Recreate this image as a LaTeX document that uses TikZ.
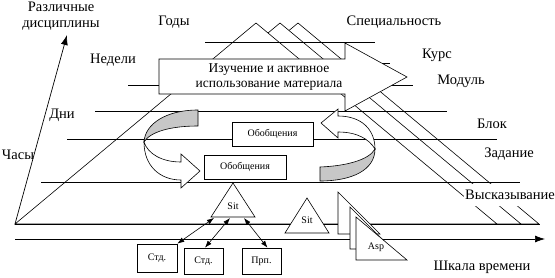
\documentclass[tikz,border=0pt]{standalone}
\usepackage{fontspec}
\setmainfont{Liberation Serif}
\usetikzlibrary{arrows.meta, positioning}

\begin{document}
\begin{tikzpicture}[
  x=1pt, y=-1pt,
  lvl/.style={line width=0.7pt},
  lbl/.style={font=\fontsize{14.5}{16}\selectfont, inner sep=1pt},
  tri/.style={draw, fill=white, line width=0.6pt},
  ribbon/.style={draw, fill=white, line width=0.6pt},
  ribbonback/.style={draw, fill=black!22, line width=0.6pt},
  tagbox/.style={draw, fill=white, line width=0.6pt, inner sep=1pt,
                 font=\fontsize{10}{11}\selectfont},
  tag/.style={font=\fontsize{10}{11}\selectfont, inner sep=1pt},
  axis/.style={-{Latex[length=10pt,width=7pt]}, line width=0.7pt},
  dbl/.style={{Latex[length=7pt,width=5pt]}-{Latex[length=7pt,width=5pt]},
              line width=0.6pt}
]
\useasboundingbox (0,0) rectangle (555,278);

% stacked pyramids, back to front
\foreach \dx in {42,24,0}
  \draw[tri] (15+\dx,224) -- (256+\dx,23) -- (497+\dx,224) -- cycle;

% level lines
\draw[lvl] (205,42) -- (375,42);
\draw[lvl] (300,63) -- (390,63);
\draw[lvl] (128,85) -- (413,85);
\draw[lvl] (95,111) -- (447,111);
\draw[lvl] (67,139) -- (497,139);
\draw[lvl] (41,182) -- (520,182);
\draw[lvl] (15,224) -- (540,224);

% axes
\coordinate (origin) at (15,224);
\coordinate (ytip) at (67,35);
\coordinate (t0) at (15,239);
\coordinate (t1) at (545,239);
\draw[axis] (origin) -- (ytip);
\draw[axis] (t0) -- (t1);

% big arrow
\draw[ribbon] (159,59) -- (345,59) -- (345,43) -- (407,77) -- (345,111)
  -- (345,94) -- (159,94) -- cycle;
\node[font=\fontsize{13.5}{15}\selectfont, align=center] (study) at (269,77.5)
  {Изучение и активное\\использование материала};

% curved arrows
\draw[ribbonback] (198,110) .. controls (166,110) and (145,124) .. (144,142)
  .. controls (150,132) and (170,126) .. (198,126) -- cycle;
\draw[ribbon] (144,142) .. controls (144,166) and (160,180) .. (181,180)
  -- (181,188) -- (200,171) -- (181,154) -- (181,162)
  .. controls (162,162) and (148,154) .. (144,142) -- cycle;
\draw[ribbon] (375,149) .. controls (369,139) and (357,132) .. (338,132)
  -- (338,138) -- (321,123) -- (338,109) -- (338,116)
  .. controls (362,116) and (375,130) .. (375,149) -- cycle;
\draw[ribbonback] (375,149) .. controls (369,160) and (346,166) .. (320,167)
  -- (320,181) .. controls (352,181) and (375,170) .. (375,149) -- cycle;

% generalisation boxes
\node[tagbox, minimum width=81pt, minimum height=24pt] (gen1) at (272.5,134) {Обобщения};
\node[tagbox, minimum width=82pt, minimum height=24pt] (gen2) at (245,167) {Обобщения};

% situations
\draw[tri] (211,217) -- (233,183) -- (255,217) -- cycle;
\node[tag] (sit1) at (233,206) {Sit};
\draw[tri] (285,233) -- (307,198) -- (329,233) -- cycle;
\node[tag] (sit2) at (307,220) {Sit};

% aspects
\draw[tri] (338,192) -- (338,234) -- (380,234) -- cycle;
\draw[tri] (350,207) -- (350,249) -- (392,249) -- cycle;
\draw[tri] (356,217) -- (356,260) -- (407,260) -- cycle;
\node[tag] (asp) at (376,247) {Asp};

% participants
\node[tagbox, minimum width=40pt, minimum height=28pt] (std1) at (157,258) {Стд.};
\node[tagbox, minimum width=39pt, minimum height=26pt] (std2) at (203.5,261) {Стд.};
\node[tagbox, minimum width=39pt, minimum height=26pt] (prp) at (261.5,261) {Прп.};
\coordinate (s1) at (214,218);
\coordinate (s2) at (230,218);
\coordinate (s3) at (244,218);
\draw[dbl] (std1.north east) -- (s1);
\draw[dbl] ([xshift=1.5pt]std2.north) -- (s2);
\draw[dbl] ([xshift=6pt]prp.north) -- (s3);

% labels
\node[lbl, align=center] (disc) at (61,16) {Различные\\дисциплины};
\node[lbl] (years) at (174,22) {Годы};
\node[lbl] (spec) at (394,22) {Специальность};
\node[lbl] (weeks) at (113,60) {Недели};
\node[lbl] (course) at (437,55) {Курс};
\node[lbl] (module) at (461,81) {Модуль};
\node[lbl] (days) at (62,115) {Дни};
\node[lbl] (block) at (492,124) {Блок};
\node[lbl] (hours) at (18,155) {Часы};
\node[lbl] (task) at (509,154) {Задание};
\node[lbl, fill=white, minimum height=22pt] (utter) at (510,195) {Высказывание};
\node[lbl] (scale) at (482,267) {Шкала времени};
\end{tikzpicture}
\end{document}
